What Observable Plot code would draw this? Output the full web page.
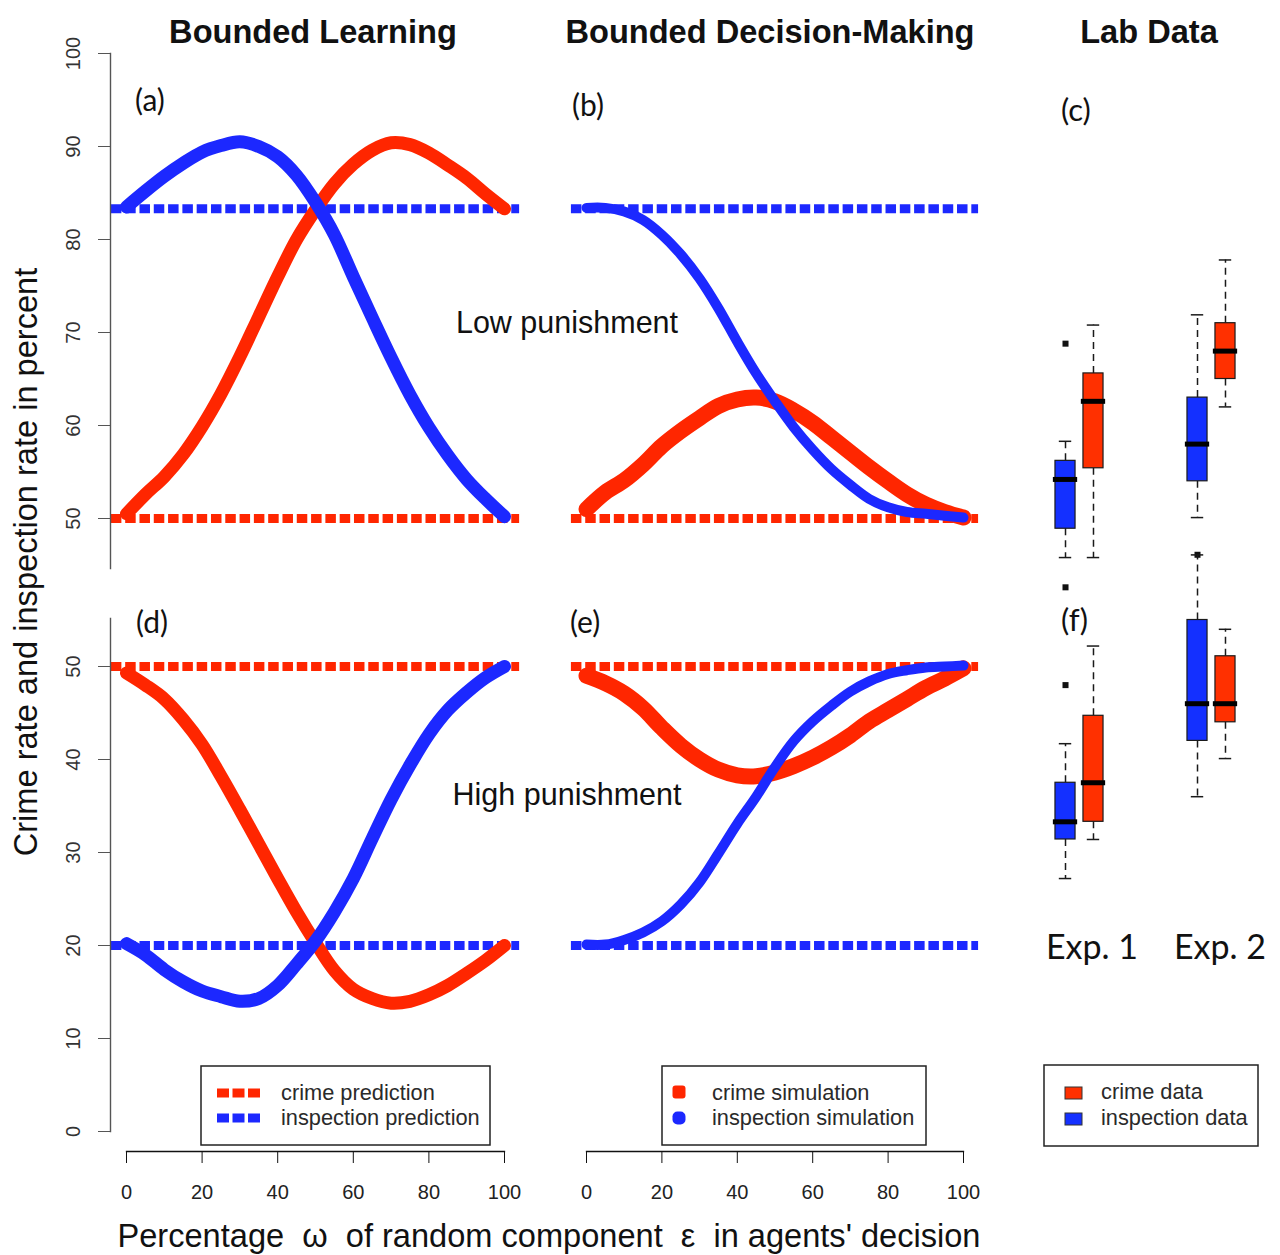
<!DOCTYPE html>
<html>
<head>
<meta charset="utf-8">
<script src="https://cdn.jsdelivr.net/npm/d3@7"></script>
<script src="https://cdn.jsdelivr.net/npm/@observablehq/plot@0.6"></script>
<style>
  html, body { margin: 0; padding: 0; background: #fff; }
  #fig { position: relative; width: 1280px; height: 1255px; overflow: hidden; background: #fff; }
  #fig svg { position: absolute; left: 0; top: 0; max-width: none; background: transparent; overflow: visible; }
</style>
</head>
<body>
<div id="fig"></div>
<script>
// ---------------- data ----------------
const omega = [0, 5, 10, 15, 20, 25, 30, 35, 40, 45, 50, 55, 60, 65, 70, 75, 80, 85, 90, 95, 100];

// (a) Bounded learning, low punishment (predictions)
const lowCrimePrediction      = [50.5, 52.6, 54.5, 56.9, 59.9, 63.4, 67.4, 71.7, 76.0, 80.0, 83.2, 86.0, 88.1, 89.6, 90.4, 90.2, 89.3, 88.0, 86.6, 84.9, 83.3];
const lowInspectionPrediction = [83.5, 85.2, 86.8, 88.2, 89.4, 90.1, 90.5, 90.0, 88.9, 86.9, 84.0, 80.5, 76.0, 71.6, 67.3, 63.3, 59.8, 56.8, 54.2, 52.1, 50.2];
// (d) Bounded learning, high punishment (predictions)
const highCrimePrediction      = [49.3, 48.0, 46.5, 44.3, 41.6, 38.2, 34.6, 30.9, 27.2, 23.6, 20.3, 17.3, 15.3, 14.3, 13.8, 14.0, 14.7, 15.7, 17.0, 18.4, 20.0];
const highInspectionPrediction = [20.2, 19.0, 17.4, 16.1, 15.1, 14.5, 14.0, 14.3, 15.7, 18.0, 20.5, 23.6, 27.2, 31.5, 35.7, 39.4, 42.7, 45.3, 47.2, 48.8, 50.0];
// (b) Bounded decision-making, low punishment (simulations)
const lowCrimeSimulation      = [51.0, 52.8, 54.1, 55.8, 57.8, 59.4, 60.8, 62.1, 62.8, 63.0, 62.6, 61.6, 60.3, 58.7, 57.1, 55.5, 54.0, 52.6, 51.5, 50.7, 50.1];
const lowInspectionSimulation = [83.4, 83.4, 83.0, 82.1, 80.5, 78.4, 75.8, 72.6, 69.0, 65.6, 62.6, 59.8, 57.4, 55.3, 53.6, 52.1, 51.2, 50.7, 50.5, 50.3, 50.1];
// (e) Bounded decision-making, high punishment (simulations)
const highCrimeSimulation      = [49.0, 48.2, 47.1, 45.5, 43.4, 41.5, 40.0, 38.9, 38.3, 38.2, 38.6, 39.3, 40.2, 41.3, 42.6, 44.1, 45.3, 46.5, 47.7, 48.7, 49.8];
const highInspectionSimulation = [20.1, 20.1, 20.6, 21.4, 22.6, 24.4, 26.8, 29.9, 33.1, 36.0, 39.2, 42.0, 44.1, 45.8, 47.3, 48.4, 49.2, 49.6, 49.9, 50.0, 50.1];

// Nash equilibrium levels (horizontal dashed lines)
const equilibriumSeries = ["crime", "inspection"];
const lowEquilibrium  = [50, 83.3];
const highEquilibrium = [50, 20];
const usrX = [-4, 104]; // R plotting region in x

// Lab data box plots: order = Exp.1 inspection, Exp.1 crime, Exp.2 inspection, Exp.2 crime
const experiments = ["Exp. 1", "Exp. 2"];
const boxExp    = ["Exp. 1", "Exp. 1", "Exp. 2", "Exp. 2"];
const boxSeries = ["inspection", "crime", "inspection", "crime"];
const lowMin = [45.8, 45.8, 50.1, 62.0];
const lowQ1  = [48.9, 55.4, 54.0, 65.0];
const lowMed = [54.2, 62.6, 58.0, 68.0];
const lowQ3  = [56.2, 65.6, 63.0, 71.0];
const lowMax = [58.3, 70.8, 71.9, 77.8];
const lowOutExp    = ["Exp. 1", "Exp. 1", "Exp. 2"];
const lowOutSeries = ["inspection", "inspection", "inspection"];
const lowOutValue  = [68.8, 42.6, 46.1];
const highMin = [27.2, 31.4, 36.0, 40.1];
const highQ1  = [31.4, 33.3, 42.0, 44.0];
const highMed = [33.3, 37.5, 46.0, 46.0];
const highQ3  = [37.5, 44.7, 55.0, 51.1];
const highMax = [41.7, 52.2, 62.0, 54.0];
const highOutExp    = ["Exp. 1"];
const highOutSeries = ["inspection"];
const highOutValue  = [48.0];

const xTicks = [0, 20, 40, 60, 80, 100];
const yTicksLow  = [50, 60, 70, 80, 90, 100];
const yTicksHigh = [0, 10, 20, 30, 40, 50];

// ---------------- layout / style ----------------
const W = 1280, H = 1255;
const RED = "#ff2600", BLUE = "#1c28ff";
const BOX_RED = "#ff3000", BOX_BLUE = "#1430ff";
const SANS = "'Liberation Sans', Arial, Helvetica, sans-serif";
const HUMAN = "Lato, 'Open Sans', sans-serif";
const fig = document.getElementById("fig");
const color = {domain: ["crime", "inspection"], range: [RED, BLUE]};

const rows = (vals, series) => omega.map((w, i) => ({omega: w, value: vals[i], series}));
const eqRows = (vals) => equilibriumSeries.map((s, i) => ({series: s, value: vals[i]}));

function add(el) { fig.appendChild(el); }

function basePlot(o) {
  return Plot.plot({
    width: W, height: H,
    marginLeft: o.ml, marginRight: W - o.mr, marginTop: o.mt, marginBottom: H - o.mb,
    style: {fontFamily: SANS, background: "transparent", overflow: "visible"},
    x: o.x, y: o.y, color: o.color,
    marks: o.marks
  });
}

const rowTop = {domain: [50, 100], range: [518, 53]};
const rowBot = {domain: [0, 50], range: [1131, 666]};
const col1 = [126, 504], col2 = [586, 963];

function curvePanel(col, row, eq, crime, insp, wCrime, wInsp, withAxis) {
  const marks = [
    Plot.ruleY(eqRows(eq), {y: "value", x1: usrX[0], x2: usrX[1], stroke: "series",
      strokeWidth: 9, strokeDasharray: "10.5,3.8"}),
    Plot.line(rows(crime, "crime"), {x: "omega", y: "value", stroke: "series",
      strokeWidth: wCrime, curve: "catmull-rom", strokeLinejoin: "round"}),
    Plot.line(rows(insp, "inspection"), {x: "omega", y: "value", stroke: "series",
      strokeWidth: wInsp, curve: "catmull-rom", strokeLinejoin: "round"})
  ];
  if (withAxis) {
    marks.push(Plot.frame({anchor: "bottom", stroke: "#111", strokeWidth: 1.3}));
    marks.push(Plot.axisX({ticks: xTicks, anchor: "bottom", tickSize: 12, tickPadding: 21,
      fontSize: 20, stroke: "#111", fill: "#222", label: null, tickFormat: d3.format("d")}));
  }
  add(basePlot({
    ml: col[0], mr: col[1], mt: row.range[1], mb: withAxis ? 1151 : row.range[0],
    x: {domain: [0, 100], range: col, axis: null},
    y: {domain: row.domain, range: row.range, axis: null},
    color, marks
  }));
}

curvePanel(col1, rowTop, lowEquilibrium, lowCrimePrediction, lowInspectionPrediction, 13, 13, false);
curvePanel(col2, rowTop, lowEquilibrium, lowCrimeSimulation, lowInspectionSimulation, 16, 10, false);
curvePanel(col1, rowBot, highEquilibrium, highCrimePrediction, highInspectionPrediction, 13, 13, true);
curvePanel(col2, rowBot, highEquilibrium, highCrimeSimulation, highInspectionSimulation, 16, 10, true);

// y axes
function yAxisPlot(row, ticks, top, bottom) {
  add(basePlot({
    ml: 110, mr: 111, mt: top, mb: bottom,
    y: {domain: row.domain, range: row.range, axis: null},
    marks: [
      Plot.frame({anchor: "left", stroke: "#555", strokeWidth: 1.4}),
      Plot.axisY({ticks, anchor: "left", tickSize: 12, tickRotate: -90, tickPadding: 19,
        fontSize: 20, stroke: "#555", fill: "#333", label: null, tickFormat: d3.format("d")})
    ]
  }));
}
yAxisPlot(rowTop, yTicksLow, 53, 568);
yAxisPlot(rowBot, yTicksHigh, 618, 1131);

// box plots (lab data)
const OFF = 0.106, HW = 0.076, CAP = 0.047, MED = 0.092;
const posOf = (e, s) => experiments.indexOf(e) + (s === "crime" ? OFF : -OFF);
function boxPanel(row, mins, q1s, meds, q3s, maxs, oe, os, ov) {
  const boxes = boxExp.map((e, i) => ({exp: e, series: boxSeries[i], pos: posOf(e, boxSeries[i]),
    lo: mins[i], q1: q1s[i], med: meds[i], q3: q3s[i], hi: maxs[i]}));
  const outs = oe.map((e, i) => ({pos: posOf(e, os[i]), value: ov[i]}));
  const ink = "#1a1a1a";
  add(basePlot({
    ml: 1040, mr: 1260, mt: row.range[1], mb: row.range[0],
    x: {domain: [0, 1], range: [1079, 1211], axis: null},
    y: {domain: row.domain, range: row.range, axis: null},
    color: {domain: ["crime", "inspection"], range: [BOX_RED, BOX_BLUE]},
    marks: [
      Plot.ruleX(boxes, {x: "pos", y1: "q3", y2: "hi", stroke: ink, strokeWidth: 1.5, strokeDasharray: "7,5"}),
      Plot.ruleX(boxes, {x: "pos", y1: "q1", y2: "lo", stroke: ink, strokeWidth: 1.5, strokeDasharray: "7,5"}),
      Plot.ruleY(boxes, {y: "hi", x1: d => d.pos - CAP, x2: d => d.pos + CAP, stroke: ink, strokeWidth: 1.5}),
      Plot.ruleY(boxes, {y: "lo", x1: d => d.pos - CAP, x2: d => d.pos + CAP, stroke: ink, strokeWidth: 1.5}),
      Plot.rect(boxes, {x1: d => d.pos - HW, x2: d => d.pos + HW, y1: "q1", y2: "q3", fill: "series", stroke: ink, strokeWidth: 1.2}),
      Plot.ruleY(boxes, {y: "med", x1: d => d.pos - MED, x2: d => d.pos + MED, stroke: "#000", strokeWidth: 5}),
      Plot.dot(outs, {x: "pos", y: "value", symbol: "square", r: 3.4, fill: "#111", stroke: "none"})
    ]
  }));
}
boxPanel(rowTop, lowMin, lowQ1, lowMed, lowQ3, lowMax, lowOutExp, lowOutSeries, lowOutValue);
boxPanel(rowBot, highMin, highQ1, highMed, highQ3, highMax, highOutExp, highOutSeries, highOutValue);

// ---------------- annotation overlay (titles, labels, legends) ----------------
const svg = d3.select(fig).append("svg").attr("width", W).attr("height", H);
function txt(s, x, y, o = {}) {
  const t = svg.append("text").attr("x", x).attr("y", y).text(s)
    .attr("font-family", o.font || SANS).attr("font-size", o.size || 30)
    .attr("text-anchor", o.anchor || "start").attr("fill", o.fill || "#111")
    .style("white-space", "pre");
  if (o.weight) t.attr("font-weight", o.weight);
  if (o.rotate) t.attr("transform", `rotate(${o.rotate},${x},${y})`);
  return t;
}
// column titles
txt("Bounded Learning", 313, 43, {size: 32.6, weight: "bold", anchor: "middle"});
txt("Bounded Decision-Making", 770, 43, {size: 32.6, weight: "bold", anchor: "middle"});
txt("Lab Data", 1149, 43, {size: 32.6, weight: "bold", anchor: "middle"});
// panel letters
txt("(a)", 135, 111, {font: HUMAN, size: 30});
txt("(b)", 572, 116, {font: HUMAN, size: 30});
txt("(c)", 1061, 121, {font: HUMAN, size: 31});
txt("(d)", 136, 633, {font: HUMAN, size: 30});
txt("(e)", 570, 633, {font: HUMAN, size: 30});
txt("(f)", 1061, 631, {font: HUMAN, size: 31});
// row labels
txt("Low punishment", 567, 333, {size: 30.5, anchor: "middle"});
txt("High punishment", 567, 805, {size: 30.5, anchor: "middle"});
// experiment labels
txt("Exp. 1", 1092, 959, {font: HUMAN, size: 34, anchor: "middle"});
txt("Exp. 2", 1220, 959, {font: HUMAN, size: 34, anchor: "middle"});
// axis titles
txt("Crime rate and inspection rate in percent", 37, 562, {size: 32.6, anchor: "middle", rotate: -90});
txt("Percentage  \u03c9  of random component  \u03b5  in agents' decision", 549, 1247, {size: 32.6, anchor: "middle"});

// legends
const legInk = "#222";
function legBox(x0, y0, x1, y1) {
  svg.append("rect").attr("x", x0).attr("y", y0).attr("width", x1 - x0).attr("height", y1 - y0)
    .attr("fill", "none").attr("stroke", legInk).attr("stroke-width", 1.5);
}
// (a)/(d) predictions
legBox(201, 1066, 490, 1145);
[[RED, 1093, "crime prediction", 1100], [BLUE, 1118, "inspection prediction", 1125]].forEach(([c, y, s, b]) => {
  svg.append("line").attr("x1", 217).attr("x2", 261).attr("y1", y).attr("y2", y)
    .attr("stroke", c).attr("stroke-width", 9).attr("stroke-dasharray", "12,3.5");
  txt(s, 281, b, {size: 21.8, fill: "#2a2a2a"});
});
// (b)/(e) simulations
legBox(662, 1066, 926, 1145);
svg.append("rect").attr("x", 672.5).attr("y", 1085.5).attr("width", 13).attr("height", 13).attr("rx", 3).attr("fill", RED);
svg.append("rect").attr("x", 672.5).attr("y", 1111.5).attr("width", 13).attr("height", 13).attr("rx", 5).attr("fill", BLUE);
txt("crime simulation", 712, 1100, {size: 21.8, fill: "#2a2a2a"});
txt("inspection simulation", 712, 1125, {size: 21.8, fill: "#2a2a2a"});
// (c)/(f) lab data
legBox(1044, 1065, 1258, 1146);
svg.append("rect").attr("x", 1065).attr("y", 1087).attr("width", 17).attr("height", 12).attr("fill", BOX_RED).attr("stroke", "#333").attr("stroke-width", 1);
svg.append("rect").attr("x", 1065).attr("y", 1113).attr("width", 17).attr("height", 12).attr("fill", BOX_BLUE).attr("stroke", "#333").attr("stroke-width", 1);
txt("crime data", 1101, 1099, {size: 21.8, fill: "#2a2a2a"});
txt("inspection data", 1101, 1125, {size: 21.8, fill: "#2a2a2a"});
</script>
</body>
</html>
